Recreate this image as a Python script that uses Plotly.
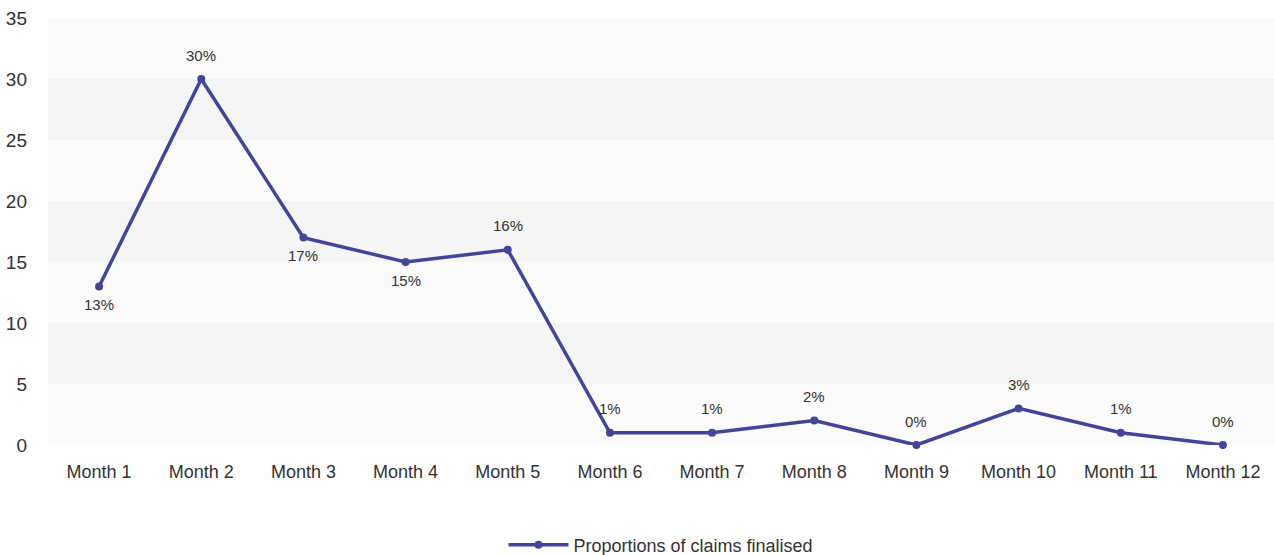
import plotly.graph_objects as go

months = [f"Month {i}" for i in range(1, 13)]
values = [13, 30, 17, 15, 16, 1, 1, 2, 0, 3, 1, 0]
labels = ["13%", "30%", "17%", "15%", "16%", "1%", "1%", "2%", "0%", "3%", "1%", "0%"]
label_side = ["below", "above", "below", "below", "above", "above", "above",
              "above", "above", "above", "above", "above"]
y_ticks = [0, 5, 10, 15, 20, 25, 30, 35]
series_name = "Proportions of claims finalised"

FONT = "Liberation Sans Narrow, Arial Narrow, sans-serif"
LINE = "rgb(68,68,152)"
TXT = "#333333"

fig = go.Figure()
fig.add_trace(go.Scatter(
    x=months, y=values, mode="lines+markers", name=series_name,
    line=dict(color=LINE, width=3.5), marker=dict(color=LINE, size=8),
    cliponaxis=False,
))

for m, v, t, s in zip(months, values, labels, label_side):
    fig.add_annotation(x=m, y=v, text=t, showarrow=False,
                       yshift=24 if s == "above" else -18,
                       font=dict(family=FONT, size=15, color=TXT))

shapes = []
for i in range(len(y_ticks) - 1):
    col = "#f5f5f5" if i % 2 == 1 else "#fbfbfb"
    shapes.append(dict(type="rect", xref="paper", x0=0, x1=1, yref="y",
                       y0=y_ticks[i], y1=y_ticks[i + 1], fillcolor=col,
                       line=dict(width=0), layer="below"))

fig.update_layout(
    width=1274, height=555,
    margin=dict(l=48, r=0, t=18, b=110, autoexpand=False),
    paper_bgcolor="white", plot_bgcolor="white",
    shapes=shapes,
    font=dict(family=FONT, size=18, color=TXT),
    showlegend=True,
    legend=dict(orientation="h", x=0.5, xanchor="center", yref="container",
                y=0.018, yanchor="middle",
                font=dict(family=FONT, size=18, color=TXT), itemwidth=60),
    xaxis=dict(range=[-0.5, len(months) - 0.5], showgrid=False, zeroline=False,
               showline=False, ticks="", ticklabelstandoff=14,
               tickfont=dict(size=18)),
    yaxis=dict(range=[0, 35], tickvals=y_ticks, showgrid=False, zeroline=False,
               showline=False, ticks="", ticklabelstandoff=20,
               tickfont=dict(size=19)),
)

fig.write_html("out.html")
